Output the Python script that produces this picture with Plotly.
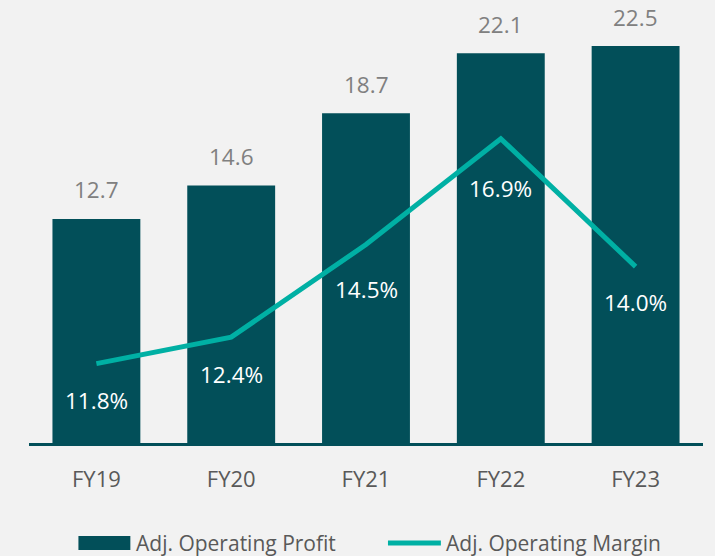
import plotly.graph_objects as go

# Adjusted operating profit and margin by fiscal year
years = ["FY19", "FY20", "FY21", "FY22", "FY23"]
profit = [12.7, 14.6, 18.7, 22.1, 22.5]
margin = [11.8, 12.4, 14.5, 16.9, 14.0]
profit_name = "Adj. Operating Profit"
margin_name = "Adj. Operating Margin"

BAR = "#024f59"
LINE = "#00b0a4"
BG = "#f2f2f2"
FONT = "Open Sans, Segoe UI, sans-serif"

W, H = 715, 556
L, R, T, B = 28.5, 11.5, 2, 113
PW, PH = W - L - R, H - T - B


def px_x(p):
    return (p - L) / PW


def px_y(p):
    return (H - B - p) / PH


fig = go.Figure()
fig.add_trace(go.Bar(x=years, y=profit, name=profit_name, marker_color=BAR,
                     marker_line_width=0, showlegend=False, yaxis="y"))
fig.add_trace(go.Scatter(x=years, y=margin, name=margin_name, mode="lines",
                         line=dict(color=LINE, width=5), showlegend=False,
                         yaxis="y2"))

annotations = []
for yr, v in zip(years, profit):
    annotations.append(dict(x=yr, y=v, xref="x", yref="y", text=f"{v:.1f}",
                            showarrow=False, yanchor="middle", yshift=29,
                            font=dict(family=FONT, size=22.5, color="#808080")))
label_drop = [37, 37, 45, 50, 36]
for yr, v, d in zip(years, margin, label_drop):
    annotations.append(dict(x=yr, y=v, xref="x", yref="y2", text=f"{v:.1f}%",
                            showarrow=False, yanchor="middle", yshift=-d,
                            font=dict(family=FONT, size=22.5, color="white")))

# legend drawn by hand
shapes = [
    dict(type="rect", xref="paper", yref="paper", x0=px_x(78), x1=px_x(130),
         y0=px_y(550), y1=px_y(536), fillcolor=BAR, line_width=0),
    dict(type="line", xref="paper", yref="paper", x0=px_x(388), x1=px_x(441),
         y0=px_y(543), y1=px_y(543), line=dict(color=LINE, width=5)),
]
annotations.append(dict(x=px_x(134), y=px_y(543), xref="paper", yref="paper",
                        text=profit_name, showarrow=False, xanchor="left",
                        yanchor="middle",
                        font=dict(family=FONT, size=21, color="#595959")))
annotations.append(dict(x=px_x(444), y=px_y(543), xref="paper", yref="paper",
                        text=margin_name, showarrow=False, xanchor="left",
                        yanchor="middle",
                        font=dict(family=FONT, size=21, color="#595959")))

fig.update_layout(
    width=W, height=H,
    margin=dict(l=L, r=R, t=T, b=B, autoexpand=False),
    paper_bgcolor=BG, plot_bgcolor=BG,
    bargap=0.348,
    showlegend=False,
    xaxis=dict(type="category", range=[-0.5, 4.5], showline=True,
               linecolor=BAR, linewidth=2.5, showgrid=False, ticks="",
               ticklabelstandoff=15,
               tickfont=dict(family=FONT, size=22, color="#595959")),
    yaxis=dict(range=[0, 25], visible=False, showgrid=False),
    yaxis2=dict(range=[10, 20], overlaying="y", visible=False, showgrid=False),
    annotations=annotations,
    shapes=shapes,
)

fig.write_html("out.html")
